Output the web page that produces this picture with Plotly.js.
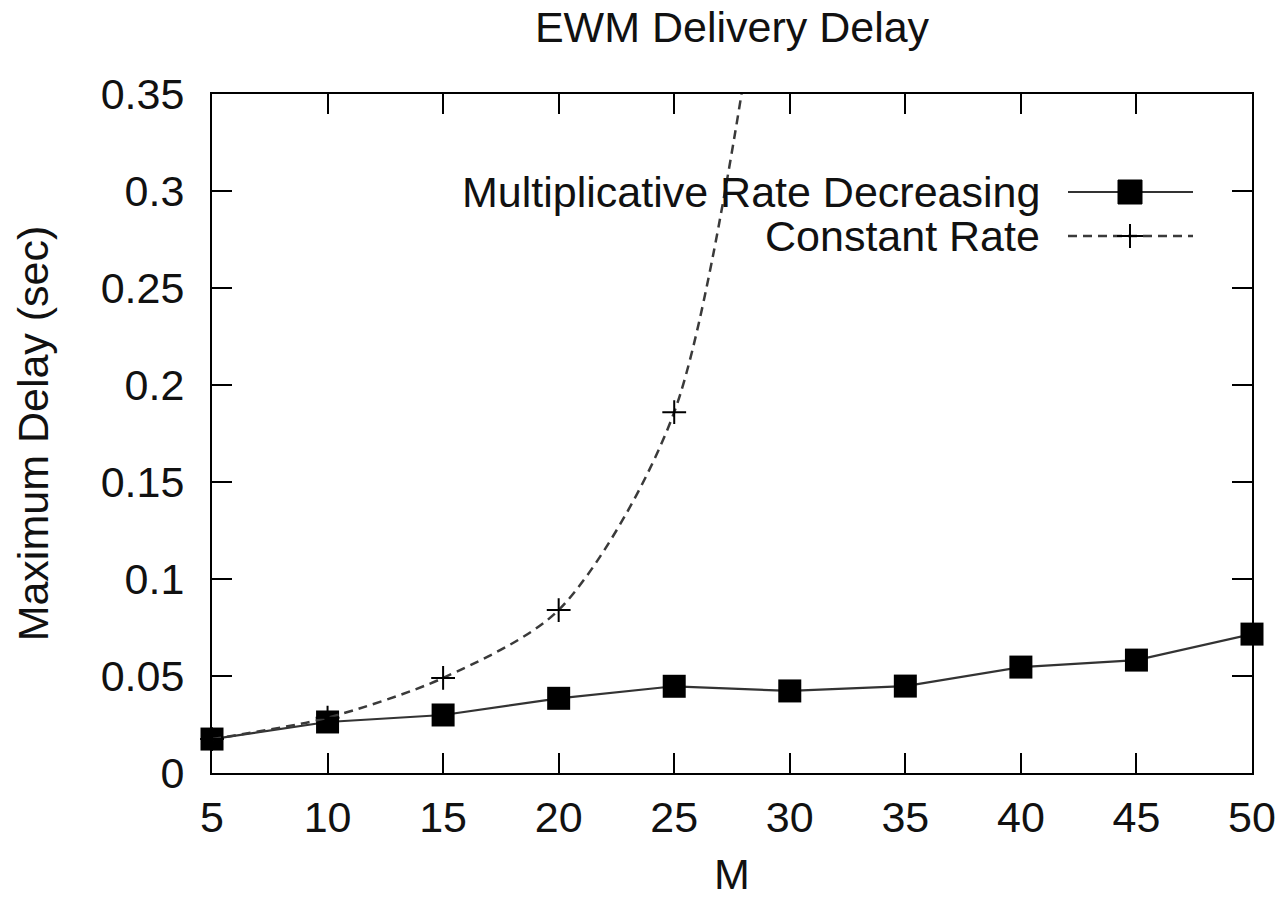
<!DOCTYPE html>
<html>
<head>
<meta charset="utf-8">
<script src="https://cdn.plot.ly/plotly-3.0.1.min.js"></script>
<style>html,body{margin:0;padding:0;background:#fff;}#chart{width:1282px;height:898px;}</style>
</head>
<body>
<div id="chart"></div>
<script>
// Data
const M = [5, 10, 15, 20, 25, 30, 35, 40, 45, 50];
const multiplicativeRate = [0.0175, 0.0263, 0.0299, 0.0385, 0.0447, 0.0423, 0.0448, 0.0546, 0.0582, 0.0716];
const constantM = [5, 10, 15, 20, 25, 30];
const constantRate = [0.0175, 0.0285, 0.049, 0.084, 0.186, 0.52];
const seriesNames = ["Multiplicative Rate Decreasing", "Constant Rate"];
const xTicks = [5, 10, 15, 20, 25, 30, 35, 40, 45, 50];
const yTicks = [0, 0.05, 0.1, 0.15, 0.2, 0.25, 0.3, 0.35];
const yTickText = ["0", "0.05", "0.1", "0.15", "0.2", "0.25", "0.3", "0.35"];

const FONT = "Liberation Sans, Arial, Helvetica, sans-serif";
const FS = 43;

const traces = [
  {
    x: M, y: multiplicativeRate, name: seriesNames[0], type: "scatter", mode: "lines+markers",
    line: {color: "#333", width: 2.2},
    marker: {symbol: "square", size: 23, color: "#000"},
    cliponaxis: false
  },
  {
    x: constantM, y: constantRate, name: seriesNames[1], type: "scatter", mode: "lines+markers",
    line: {color: "#3a3a3a", width: 2.5, dash: "9px,6px", shape: "spline", smoothing: 0.8},
    marker: {symbol: "cross-thin", size: 17, color: "#000", line: {color: "#000", width: 2}},
    cliponaxis: false
  }
];

// legend key drawn in paper coordinates (gnuplot style: text left, sample right)
const L = 212, R = 1252, T = 94, B = 773;
const px = v => (v - L) / (R - L);
const py = v => (B - v) / (B - T);
const row1 = 192, row2 = 236;
const shapes = [
  {type: "line", xref: "paper", yref: "paper", x0: px(1068), x1: px(1193), y0: py(row1), y1: py(row1), line: {color: "#333", width: 2.2}},
  {type: "rect", xref: "paper", yref: "paper", x0: px(1118), x1: px(1142), y0: py(row1 - 12), y1: py(row1 + 12), fillcolor: "#000", line: {color: "#000", width: 1}},
  {type: "line", xref: "paper", yref: "paper", x0: px(1068), x1: px(1193), y0: py(row2), y1: py(row2), line: {color: "#3a3a3a", width: 2.5, dash: "9px,6px"}},
  {type: "line", xref: "paper", yref: "paper", x0: px(1117), x1: px(1143), y0: py(row2), y1: py(row2), line: {color: "#000", width: 2}},
  {type: "line", xref: "paper", yref: "paper", x0: px(1130), x1: px(1130), y0: py(row2 - 12), y1: py(row2 + 12), line: {color: "#000", width: 2}}
];
const annotations = [
  {xref: "paper", yref: "paper", x: px(1042), y: py(row1), xanchor: "right", yanchor: "middle", text: seriesNames[0], showarrow: false, font: {family: FONT, size: FS, color: "#111"}},
  {xref: "paper", yref: "paper", x: px(1042), y: py(row2), xanchor: "right", yanchor: "middle", text: seriesNames[1], showarrow: false, font: {family: FONT, size: FS, color: "#111"}}
];

const axisCommon = {
  showline: true, linecolor: "#000", linewidth: 2, mirror: "ticks",
  ticks: "inside", ticklen: 20, tickwidth: 2, tickcolor: "#000",
  showgrid: false, zeroline: false,
  tickfont: {family: FONT, size: FS, color: "#111"}
};

const layout = {
  width: 1282, height: 898,
  margin: {l: L, r: 1282 - R, t: T, b: 898 - B, autoexpand: false},
  paper_bgcolor: "#fff", plot_bgcolor: "#fff",
  showlegend: false,
  font: {family: FONT, size: FS, color: "#111"},
  title: {text: "EWM Delivery Delay", x: 0.5, xref: "paper", y: 1 - 27 / 898, yref: "container", yanchor: "middle", font: {family: FONT, size: FS, color: "#111"}},
  xaxis: Object.assign({}, axisCommon, {
    range: [5, 50], tickvals: xTicks, ticktext: xTicks.map(String),
    ticklabelstandoff: 5,
    title: {text: "M", standoff: 20, font: {family: FONT, size: FS, color: "#111"}}
  }),
  yaxis: Object.assign({}, axisCommon, {
    range: [0, 0.35], tickvals: yTicks, ticktext: yTickText,
    ticklabelstandoff: 17,
    title: {text: "Maximum Delay (sec)", standoff: 39, font: {family: FONT, size: FS, color: "#111"}}
  }),
  shapes: shapes,
  annotations: annotations
};

Plotly.newPlot("chart", traces, layout, {staticPlot: true, displayModeBar: false});
</script>
</body>
</html>
